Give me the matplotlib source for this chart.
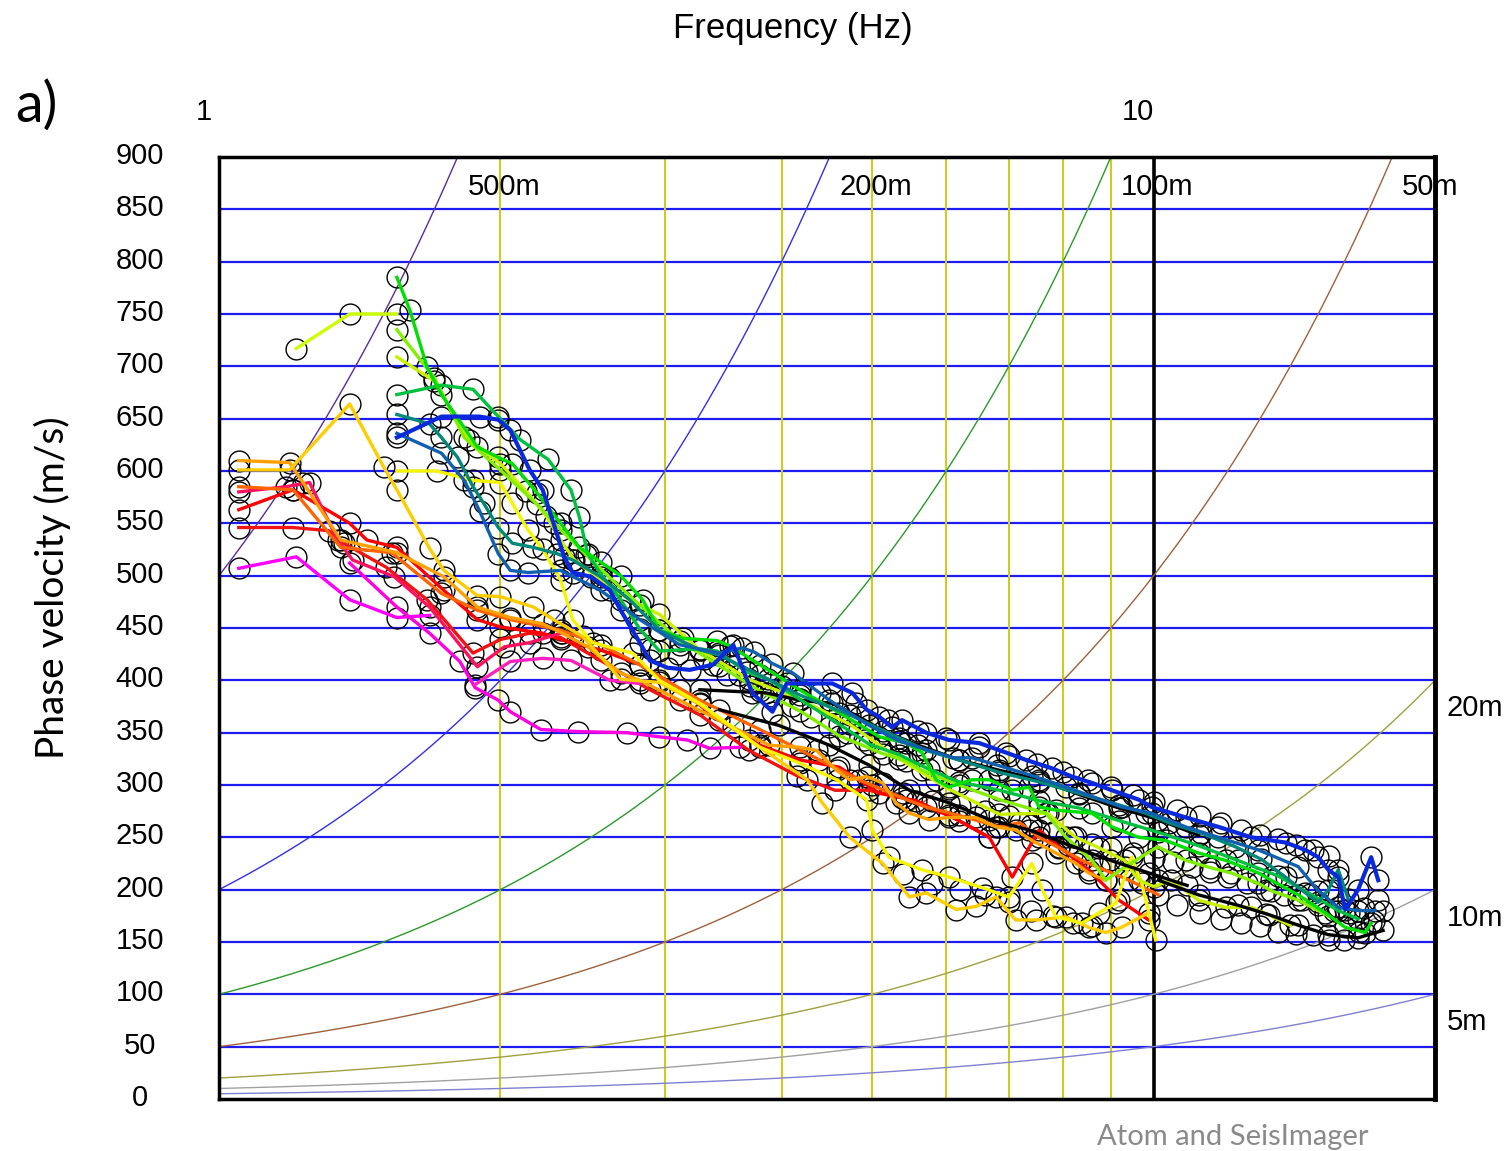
"""Dispersion curves (phase velocity vs frequency) with wavelength guide lines"""
import numpy as np
import matplotlib.pyplot as plt
from matplotlib.ticker import NullLocator
from matplotlib.transforms import ScaledTranslation

#######################################
###### DATA
#######################################

# frequency (Hz) and phase velocity (m/s) of each picked dispersion curve
f_chart = [1.21, 1.38, 1.55]
v_chart = [717, 750, 750]

f_green = [1.55, 1.60, 1.67, 1.73, 1.89, 1.99, 2.06, 2.19, 2.32, 2.43, 2.56, 2.69, 2.84, 2.96, 3.14,
           3.41, 3.52, 3.79, 4.18, 4.61, 5.09, 5.44, 5.65, 5.85, 6.04, 6.39, 6.67, 7.06, 7.36, 7.54,
           7.86, 8.59, 9.02, 9.64, 10.3, 11.17, 11.94, 12.94, 13.36, 14.28, 15.26, 16.03, 16.84, 17.09]
v_green = [785, 754, 699, 673, 623, 613, 607, 579, 550, 527, 513, 500, 477, 448, 440,
           438, 433, 415, 391, 369, 346, 340, 331, 305, 298, 305, 305, 295, 298, 279,
           276, 273, 260, 250, 247, 235, 228, 216, 209, 195, 178, 164, 159, 168]

f_green2 = [1.55, 1.73, 1.87, 1.99, 2.10, 2.25, 2.38, 2.43, 2.48, 2.56, 2.69, 2.82, 2.96, 3.27, 3.41,
            3.67, 3.87, 4.18, 4.61, 4.96, 5.34, 5.75, 6.19, 6.84, 7.54, 8.32, 9.18, 10.1, 11.17, 12.3,
            13.6, 14.7, 15.76, 16.55]
v_green2 = [673, 682, 678, 652, 630, 611, 582, 556, 521, 502, 477, 449, 428, 430, 428,
            408, 401, 382, 358, 339, 329, 315, 303, 295, 285, 278, 266, 255, 242, 228,
            213, 196, 180, 172]

f_teal = [1.55, 1.68, 1.73, 1.80, 1.87, 1.92, 1.99, 2.06, 2.17, 2.30, 2.39, 2.56, 2.75, 2.96, 3.27,
          3.43, 3.79, 4.18, 4.73, 5.34, 5.71, 6.19, 6.84, 7.54, 8.32, 9.18, 9.81, 10.38, 11.25, 12.23,
          13.04, 13.84, 14.53, 15.0, 15.38, 15.76, 16.15]
v_teal = [654, 645, 632, 613, 585, 569, 546, 531, 527, 521, 515, 499, 477, 448, 429,
          424, 405, 386, 367, 345, 333, 324, 312, 303, 292, 281, 273, 264, 254, 241,
          229, 212, 197, 188, 200, 219, 191]

f_steel = [1.55, 1.73, 1.83, 1.90, 1.99, 2.05, 2.14, 2.32, 2.56, 2.82, 3.11, 3.43, 3.63, 3.74, 3.91,
           4.11, 4.50, 4.96, 5.34, 6.10, 6.39, 6.80, 7.41, 8.06, 9.24, 9.95, 10.82, 11.73, 12.94, 14.28,
           15.0, 15.76, 16.55, 17.26]
v_steel = [636, 617, 591, 562, 521, 505, 503, 505, 486, 458, 434, 426, 431, 427, 416,
           407, 381, 357, 342, 326, 326, 319, 309, 298, 279, 273, 260, 250, 238, 222,
           199, 183, 180, 180]

f_blue = [1.55, 1.73, 1.90, 1.99, 2.05, 2.15, 2.22, 2.28, 2.34, 2.39, 2.50, 2.62, 2.69, 2.82, 2.89,
          3.02, 3.19, 3.38, 3.55, 3.72, 3.91, 4.05, 4.53, 4.76, 4.93, 5.09, 5.25, 5.38, 5.71, 6.04,
          6.51, 6.95, 7.30, 7.78, 8.18, 8.59, 9.02, 9.64, 9.95, 10.82, 11.73, 12.72, 13.84, 14.53, 15.0,
          15.38, 15.76, 16.03, 16.55, 17.09, 17.39]
v_blue = [632, 652, 652, 649, 639, 601, 582, 550, 518, 503, 499, 486, 467, 436, 419,
          412, 410, 415, 434, 388, 370, 397, 397, 388, 372, 365, 355, 362, 350, 343,
          340, 331, 324, 316, 308, 302, 295, 286, 279, 269, 260, 250, 245, 238, 231,
          219, 212, 181, 200, 231, 209]

f_lime = [1.55, 1.70, 1.83, 2.0, 2.19, 2.32, 2.47, 2.62, 2.82, 3.11, 3.43, 3.79, 4.18, 4.61, 5.13,
          5.44, 5.65, 6.19, 6.84, 7.67, 8.06, 8.59, 8.89, 9.33, 10.1, 10.82, 11.5, 12.1, 12.94, 13.36,
          14.28, 15.38]
v_lime = [735, 689, 632, 601, 568, 544, 520, 498, 472, 438, 414, 390, 371, 347, 330,
          323, 314, 300, 286, 273, 250, 228, 209, 222, 241, 228, 221, 216, 206, 199,
          190, 175]

f_ygreen = [1.55, 1.70, 1.85, 2.0, 2.13, 2.24, 2.32, 2.40, 2.56, 2.75, 2.96, 3.27, 3.69, 4.18, 4.73,
            5.34, 6.04, 6.84, 7.70, 8.25, 8.74, 9.31, 9.64, 10.0, 10.44, 11.17, 11.94, 12.72, 13.2, 14.0]
v_ygreen = [709, 686, 630, 607, 581, 557, 534, 515, 496, 477, 463, 429, 401, 382, 358,
            325, 296, 272, 273, 250, 240, 228, 209, 203, 209, 190, 183, 183, 177, 166]

f_yellow = [1.55, 1.71, 1.87, 2.0, 2.06, 2.14, 2.22, 2.32, 2.39, 2.51, 2.77, 2.96, 3.27, 3.79, 4.18,
            4.58, 4.93, 5.0, 5.21, 5.65, 6.04, 6.55, 7.0, 7.41, 7.60, 7.86, 8.38, 8.74, 9.11, 9.47,
            9.71, 10.05]
v_yellow = [600, 600, 591, 589, 569, 544, 525, 496, 458, 436, 426, 400, 378, 336, 321,
            305, 286, 257, 231, 219, 212, 202, 193, 225, 200, 174, 168, 178, 187, 231,
            206, 152]

f_gold = [1.05, 1.19, 1.38, 1.50, 1.55, 1.68, 1.74, 1.89, 2.0, 2.17, 2.28, 2.45, 2.69, 2.96, 3.27,
          3.69, 4.26, 4.42, 4.73, 5.13, 5.48, 5.71, 6.15, 6.46, 6.78, 7.12, 7.48, 8.06, 8.52, 8.89,
          9.24, 9.88]
v_gold = [601, 601, 664, 604, 582, 526, 505, 481, 480, 470, 458, 442, 401, 398, 377,
          343, 305, 283, 250, 225, 193, 197, 181, 184, 193, 171, 171, 174, 164, 159,
          164, 178]

f_orange = [1.05, 1.19, 1.23, 1.35, 1.55, 1.74, 1.89, 2.05, 2.22, 2.33, 2.48, 2.69, 2.82, 3.11, 3.55,
            3.88, 4.18, 4.36, 4.58, 4.73, 4.93, 5.13, 5.30, 5.48, 5.75, 6.04, 6.46, 6.78, 7.12, 7.41,
            7.86, 8.26, 8.52, 8.89]
v_orange = [610, 608, 589, 534, 522, 499, 470, 460, 454, 445, 432, 407, 400, 381, 355,
            338, 336, 333, 314, 305, 308, 302, 283, 273, 267, 269, 269, 260, 257, 247,
            235, 225, 216, 209]

f_dorange = [1.05, 1.20, 1.35, 1.53, 1.73, 1.89, 2.05, 2.32, 2.56, 2.82, 3.27, 3.79, 4.39, 4.84, 5.44,
             5.71, 6.19, 6.84, 7.19, 7.54, 7.92, 8.38, 8.74, 9.42, 10.12]
v_dorange = [585, 582, 527, 522, 483, 467, 458, 448, 434, 415, 381, 353, 324, 305, 286,
             279, 271, 260, 264, 250, 240, 228, 221, 209, 195]

f_red = [1.05, 1.20, 1.38, 1.44, 1.55, 1.74, 1.89, 2.0, 2.22, 2.32, 2.56, 2.82, 3.11, 3.43, 3.79,
         4.18, 4.61, 5.09, 5.57, 6.19, 6.67, 7.06, 7.54, 7.92, 8.52, 9.18, 9.88]
v_red = [563, 582, 550, 534, 527, 486, 458, 451, 445, 439, 429, 415, 391, 362, 338,
         324, 317, 292, 285, 266, 250, 212, 257, 241, 219, 190, 171]

f_red2 = [1.05, 1.20, 1.31, 1.36, 1.51, 1.67, 1.87, 2.0, 2.15, 2.32, 2.56, 2.89, 3.27, 3.69, 4.15,
          4.56, 4.96, 5.38, 6.04, 6.67]
v_red2 = [546, 546, 543, 531, 508, 477, 426, 439, 445, 441, 419, 391, 367, 333, 309,
          295, 295, 288, 271, 250]

f_crimson = [1.05, 1.18, 1.25, 1.34, 1.39, 1.54, 1.68, 1.89, 2.02, 2.15, 2.32]
v_crimson = [580, 585, 589, 534, 515, 499, 470, 413, 432, 436, 445]

f_mag1 = [1.05, 1.21, 1.38, 1.55, 1.68]
v_mag1 = [507, 518, 477, 460, 462]

f_mag2 = [1.38, 1.55, 1.68, 1.81, 1.88, 1.99, 2.05, 2.21, 2.42, 2.73, 2.96, 3.17, 3.35, 3.61]
v_mag2 = [512, 470, 445, 418, 393, 381, 370, 353, 351, 350, 346, 343, 335, 336]

f_mag3 = [1.88, 2.05, 2.22, 2.38, 2.62, 2.82]
v_mag3 = [396, 418, 421, 419, 400, 397]

f_black1 = [3.27, 3.85, 4.18, 4.53, 4.84, 5.13, 5.60, 6.19, 6.84, 7.54, 8.32, 9.18, 10.12, 11.17]
v_black1 = [391, 388, 381, 378, 365, 352, 338, 324, 314, 305, 291, 278, 267, 252]

f_black2 = [3.43, 3.97, 4.50, 4.96, 5.48, 6.04, 6.67, 7.36, 8.10, 8.99, 9.88, 10.86]
v_black2 = [372, 357, 338, 319, 295, 283, 267, 257, 243, 228, 216, 204]

f_black3 = [10.12, 11.17, 12.32, 13.3, 14.28, 15.38, 16.55, 17.6]
v_black3 = [209, 195, 185, 176, 166, 157, 154, 161]

# picked points that are not joined by a line
f_pts1 = [3.6, 4.0, 4.4, 4.8, 5.2, 5.6, 6.0, 6.5, 7.0, 7.5, 8.0, 8.5, 9.0, 9.5, 10.0, 10.6, 11.2,
          11.8, 12.4, 13.0, 13.6, 14.2, 14.8, 15.4]
v_pts1 = [405, 395, 388, 378, 362, 352, 345, 336, 328, 320, 312, 305, 298, 290, 284, 276, 270,
          264, 257, 252, 248, 243, 238, 232]

f_pts2 = [5.0, 5.4, 5.8, 6.2, 6.6, 7.0, 7.4, 7.8, 8.2, 8.6, 9.0, 9.5, 10.0, 10.5, 11.0, 11.5, 12.0,
          12.6, 13.2, 13.8, 14.4, 15.0, 15.6, 16.2, 16.8, 17.4]
v_pts2 = [300, 292, 285, 280, 275, 270, 262, 255, 250, 244, 240, 235, 230, 226, 222, 217, 212,
          206, 200, 195, 190, 185, 180, 178, 182, 190]

f_pts3 = [10.6, 11.2, 11.8, 12.4, 13.0, 13.6, 14.2, 14.8, 15.4, 16.0, 16.6, 17.2, 17.6]
v_pts3 = [185, 178, 172, 168, 165, 160, 158, 157, 152, 152, 160, 170, 180]

f_pts4 = [2.9, 3.1, 3.3, 3.5, 3.7, 3.9, 4.1, 4.3, 4.5, 4.7, 4.9, 5.1]
v_pts4 = [430, 425, 420, 405, 395, 385, 375, 365, 355, 350, 343, 335]

f_pts5 = [5.4, 5.8, 6.2, 6.6, 7.0, 7.4, 7.8, 8.2, 8.6]
v_pts5 = [215, 205, 200, 195, 188, 180, 175, 168, 165]

point_sets = [(f_pts1, v_pts1), (f_pts2, v_pts2), (f_pts3, v_pts3), (f_pts4, v_pts4), (f_pts5, v_pts5)]

curves = [
    (f_red2, v_red2, '#f01414'),
    (f_red, v_red, '#ff0000'),
    (f_crimson, v_crimson, '#ff1060'),
    (f_mag1, v_mag1, '#ff00ff'),
    (f_mag2, v_mag2, '#ff00e0'),
    (f_mag3, v_mag3, '#ff20c0'),
    (f_dorange, v_dorange, '#ff6400'),
    (f_orange, v_orange, '#ffa000'),
    (f_gold, v_gold, '#ffcc00'),
    (f_yellow, v_yellow, '#f5f500'),
    (f_ygreen, v_ygreen, '#c8f000'),
    (f_chart, v_chart, '#ccff00'),
    (f_lime, v_lime, '#80f000'),
    (f_black1, v_black1, '#000000'),
    (f_black2, v_black2, '#000000'),
    (f_black3, v_black3, '#000000'),
    (f_green2, v_green2, '#00c040'),
    (f_green, v_green, '#00e000'),
    (f_teal, v_teal, '#008878'),
    (f_steel, v_steel, '#1060b0'),
    (f_blue, v_blue, '#0a28dc'),
]

# wavelength guide lines v = f * lambda
wavelengths = [500, 200, 100, 50, 20, 10, 5]
wl_labels = ['500m', '200m', '100m', '50m', '20m', '10m', '5m']
wl_colors = ['#5a2d9c', '#3030f0', '#2a9a2a', '#a0603a', '#a0a040', '#a0a0a0', '#8080d0']

vel_ticks = np.arange(0, 901, 50)
freq_grid = [2, 3, 4, 5, 6, 7, 8, 9]

#######################################
###### PLOT
#######################################

plt.rcParams['font.family'] = ['Liberation Sans', 'DejaVu Sans']

fig = plt.figure(figsize=(15.07, 11.51), dpi=100)
ax = fig.add_axes([0.1453, 0.0452, 0.8069, 0.8184])
ax.set_xscale('log')
ax.set_xlim(1, 20)
ax.set_ylim(0, 900)

# grid
for v in vel_ticks[1:-1]:
    ax.axhline(v, color='#1c1cf0', lw=1.6, zorder=1)
for f in freq_grid:
    ax.axvline(f, color='#cccc22', lw=1.5, zorder=1)
ax.axvline(10, color='k', lw=2.6, zorder=1)

# wavelength curves
f_line = np.geomspace(1, 20, 400)
for lam, lab, col in zip(wavelengths, wl_labels, wl_colors):
    ax.plot(f_line, f_line * lam, color=col, lw=1.0, zorder=2)
    if lam >= 50:
        ax.annotate(lab, xy=(900 / lam, 900), xytext=(10, -30), textcoords='offset pixels',
                    fontsize=21, va='center', ha='left', annotation_clip=False)
    else:
        ax.annotate(lab, xy=(20, 20 * lam), xytext=(12, -28), textcoords='offset pixels',
                    fontsize=21, va='center', ha='left', annotation_clip=False)

# picked points as open circles, lines on top
circle = dict(ls='none', marker='o', ms=15, mfc='none', mec='k', mew=1.0, zorder=3)
for f, v in point_sets:
    ax.plot(f, v, **circle)
for f, v, col in curves:
    ax.plot(f, v, **circle)
for f, v, col in curves:
    lw = 3.0 if col == '#0a28dc' else 2.4
    ax.plot(f, v, color=col, lw=lw, zorder=4)

# axes, ticks and labels
for s in ax.spines.values():
    s.set_linewidth(2.5)
    s.set_zorder(5)
ax.spines['right'].set_linewidth(3.5)

ax.set_yticks(vel_ticks)
ax.set_yticklabels([str(v) for v in vel_ticks])
ax.tick_params(axis='y', length=0, pad=57, labelsize=21)
shift_up = ScaledTranslation(0, 0.04, fig.dpi_scale_trans)
for lab in ax.get_yticklabels():
    lab.set_ha('center')
    lab.set_transform(lab.get_transform() + shift_up)

ax.xaxis.tick_top()
ax.xaxis.set_minor_locator(NullLocator())
ax.set_xticks([1, 10])
ax.set_xticklabels(['1', '10'])
ax.tick_params(axis='x', length=0, pad=22, labelsize=21)
for lab in ax.get_xticklabels():
    lab.set_ha('right')
xlab_one = ax.get_xticklabels()[0]
xlab_one.set_transform(xlab_one.get_transform() + ScaledTranslation(-0.07, 0, fig.dpi_scale_trans))

fig.text(0.526, 0.975, 'Frequency (Hz)', fontsize=25, ha='center', va='center')
fig.text(0.035, 0.489, 'Phase velocity (m/s)', fontsize=28, family='Lato',
         rotation=90, ha='center', va='center')
fig.text(0.010, 0.908, 'a)', fontsize=40, family='Lato', ha='left', va='center')
fig.text(0.818, 0.012, 'Atom and SeisImager', fontsize=21, family='Lato', color='#8a8a8a',
         ha='center', va='center')

fig.savefig('out.png', dpi=100)
